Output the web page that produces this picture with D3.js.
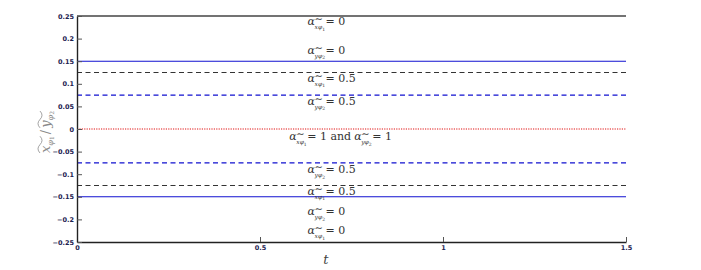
<!DOCTYPE html>
<html>
<head>
<meta charset="utf-8">
<script src="https://cdn.jsdelivr.net/npm/d3@7.9.0/dist/d3.min.js"></script>
<style>
  html, body { margin: 0; padding: 0; background: #fff; }
  svg { display: block; }
</style>
</head>
<body>
<div id="chart"></div>
<script>
// constant curves over t in [0, 1.5]
const tRange = [0, 1.5];
const levels = [
  { v: 0.15,   kind: "blueSolid" },
  { v: 0.125,  kind: "grayDash" },
  { v: 0.075,  kind: "blueDash" },
  { v: 0,      kind: "redDot" },
  { v: -0.075, kind: "blueDash" },
  { v: -0.125, kind: "grayDash" },
  { v: -0.15,  kind: "blueSolid" }
];

// annotations: [t, y, variable, value]
const notes = [
  [0.63, 0.236, "x", "0"],
  [0.63, 0.173, "y", "0"],
  [0.63, 0.111, "x", "0.5"],
  [0.63, 0.060, "y", "0.5"],
  [0.63, -0.091, "y", "0.5"],
  [0.63, -0.139, "x", "0.5"],
  [0.63, -0.184, "y", "0"],
  [0.63, -0.226, "x", "0"]
];

const xTicks = [0, 0.5, 1, 1.5];
const yTicks = [0.25, 0.2, 0.15, 0.1, 0.05, 0, -0.05, -0.1, -0.15, -0.2, -0.25];

const W = 701, H = 270;
const m = { left: 77, right: 75, top: 16, bottom: 28 };

const svg = d3.select("#chart").append("svg")
  .attr("width", W).attr("height", H);

const x = d3.scaleLinear().domain([0, 1.5]).range([m.left, W - m.right]);
const y = d3.scaleLinear().domain([-0.25, 0.25]).range([H - m.bottom, m.top]);

const styles = {
  blueSolid: { stroke: "#1010d0", dash: null, w: 1.1 },
  grayDash:  { stroke: "#333", dash: "5,3.5", w: 1.2 },
  blueDash:  { stroke: "#1010d0", dash: "5,3.5", w: 1.2 },
  redDot:    { stroke: "#e01010", dash: "1.2,1.2", w: 1 }
};

const line = d3.line().x(d => x(d[0])).y(d => y(d[1]));

levels.forEach(l => {
  const s = styles[l.kind];
  svg.append("path")
    .attr("d", line(tRange.map(t => [t, l.v])))
    .attr("fill", "none")
    .attr("stroke", s.stroke)
    .attr("stroke-width", s.w)
    .attr("stroke-dasharray", s.dash);
});

// top border (no right spine)
svg.append("line")
  .attr("x1", x(0)).attr("x2", x(1.5))
  .attr("y1", y(0.25)).attr("y2", y(0.25))
  .attr("stroke", "#444").attr("stroke-width", 1.4);

// axes with inward ticks
const xAxis = svg.append("g")
  .attr("transform", `translate(0,${y(-0.25)})`)
  .call(d3.axisBottom(x).tickValues(xTicks).tickSizeInner(-5).tickSizeOuter(0)
    .tickFormat(d3.format("")));
const yAxis = svg.append("g")
  .attr("transform", `translate(${x(0)},0)`)
  .call(d3.axisLeft(y).tickValues(yTicks).tickSizeInner(-5).tickSizeOuter(0)
    .tickFormat(d => d === 0 ? "0" : d3.format("")(d)));

[xAxis, yAxis].forEach(g => {
  g.select(".domain").attr("stroke", "#222").attr("stroke-width", 1.4);
  g.selectAll(".tick line").attr("stroke", "#555").attr("stroke-width", 1);
  g.selectAll(".tick text")
    .attr("fill", "#1c2250")
    .style("font-family", "'DejaVu Sans', sans-serif")
    .style("font-size", "6.5px")
    .style("font-weight", "bold");
});
xAxis.selectAll(".tick text").attr("y", 3);
yAxis.selectAll(".tick text").attr("x", -3);

const serif = "'DejaVu Serif', 'Liberation Serif', serif";
const textCol = "#333";

// alpha with tilde-subscript
function alpha(g, x0, y0, v) {
  g.append("text").attr("x", x0).attr("y", y0)
    .style("font-family", serif).style("font-style", "italic")
    .style("font-size", "11px").attr("fill", textCol).text("α");
  g.append("text").attr("x", x0 + 7).attr("y", y0 - 3)
    .style("font-family", serif).style("font-size", "10px")
    .attr("fill", textCol).text("∼");
  const sub = g.append("text").attr("x", x0 + 7).attr("y", y0 + 4)
    .style("font-family", serif).style("font-style", "italic")
    .style("font-size", "6px").attr("fill", textCol);
  sub.append("tspan").text(v);
  sub.append("tspan").text("φ");
  sub.append("tspan").attr("dy", 1.5).style("font-size", "4.5px").style("font-style", "normal")
    .text(v === "x" ? "1" : "2");
  return x0 + 18;
}

notes.forEach(([t, v, vr, val]) => {
  const g = svg.append("g");
  const y0 = y(v) + 3;
  const xe = alpha(g, x(t), y0, vr);
  g.append("text").attr("x", xe).attr("y", y0)
    .style("font-family", serif).style("font-size", "11px")
    .attr("fill", textCol).text("= " + val);
});

// middle annotation
{
  const g = svg.append("g");
  const y0 = y(-0.0177) + 3;
  let xe = alpha(g, x(0.58), y0, "x");
  const txt = g.append("text").attr("x", xe).attr("y", y0)
    .style("font-family", serif).style("font-size", "11px")
    .attr("fill", textCol).text("= 1 and ");
  xe += txt.node().getComputedTextLength() + 3;
  xe = alpha(g, xe, y0, "y");
  g.append("text").attr("x", xe).attr("y", y0)
    .style("font-family", serif).style("font-size", "11px")
    .attr("fill", textCol).text("= 1");
}

// axis titles
svg.append("text")
  .attr("x", x(0.68)).attr("y", H - 6)
  .attr("text-anchor", "middle")
  .style("font-family", serif).style("font-style", "italic")
  .style("font-size", "13px").attr("fill", "#444").text("t");

// y label: x~phi1 / y~phi2, rotated
const yg = svg.append("g").attr("transform", `translate(50,${y(0)}) rotate(-90)`);
const labCol = "#8a8a8a";
let cx = -24;
function piece(str, size, italic, dy) {
  const t = yg.append("text").attr("x", cx).attr("y", dy)
    .style("font-family", serif).style("font-style", italic ? "italic" : "normal")
    .style("font-size", size + "px").attr("fill", labCol).text(str);
  const w = t.node().getComputedTextLength();
  cx += w;
  return w;
}
function tildeOver(x0, w) {
  yg.append("path")
    .attr("d", `M${x0},-10 q${w / 4},-4 ${w / 2},0 t${w / 2},0`)
    .attr("fill", "none").attr("stroke", labCol).attr("stroke-width", 0.8);
}
let s0 = cx;
piece("x", 13, true, 0);
piece("φ", 8, true, 3);
piece("1", 6, false, 4);
tildeOver(s0, cx - s0);
cx += 2;
piece("/", 13, false, 0);
cx += 2;
s0 = cx;
piece("y", 13, true, 0);
piece("φ", 8, true, 3);
piece("2", 6, false, 4);
tildeOver(s0, cx - s0);
</script>
</body>
</html>
